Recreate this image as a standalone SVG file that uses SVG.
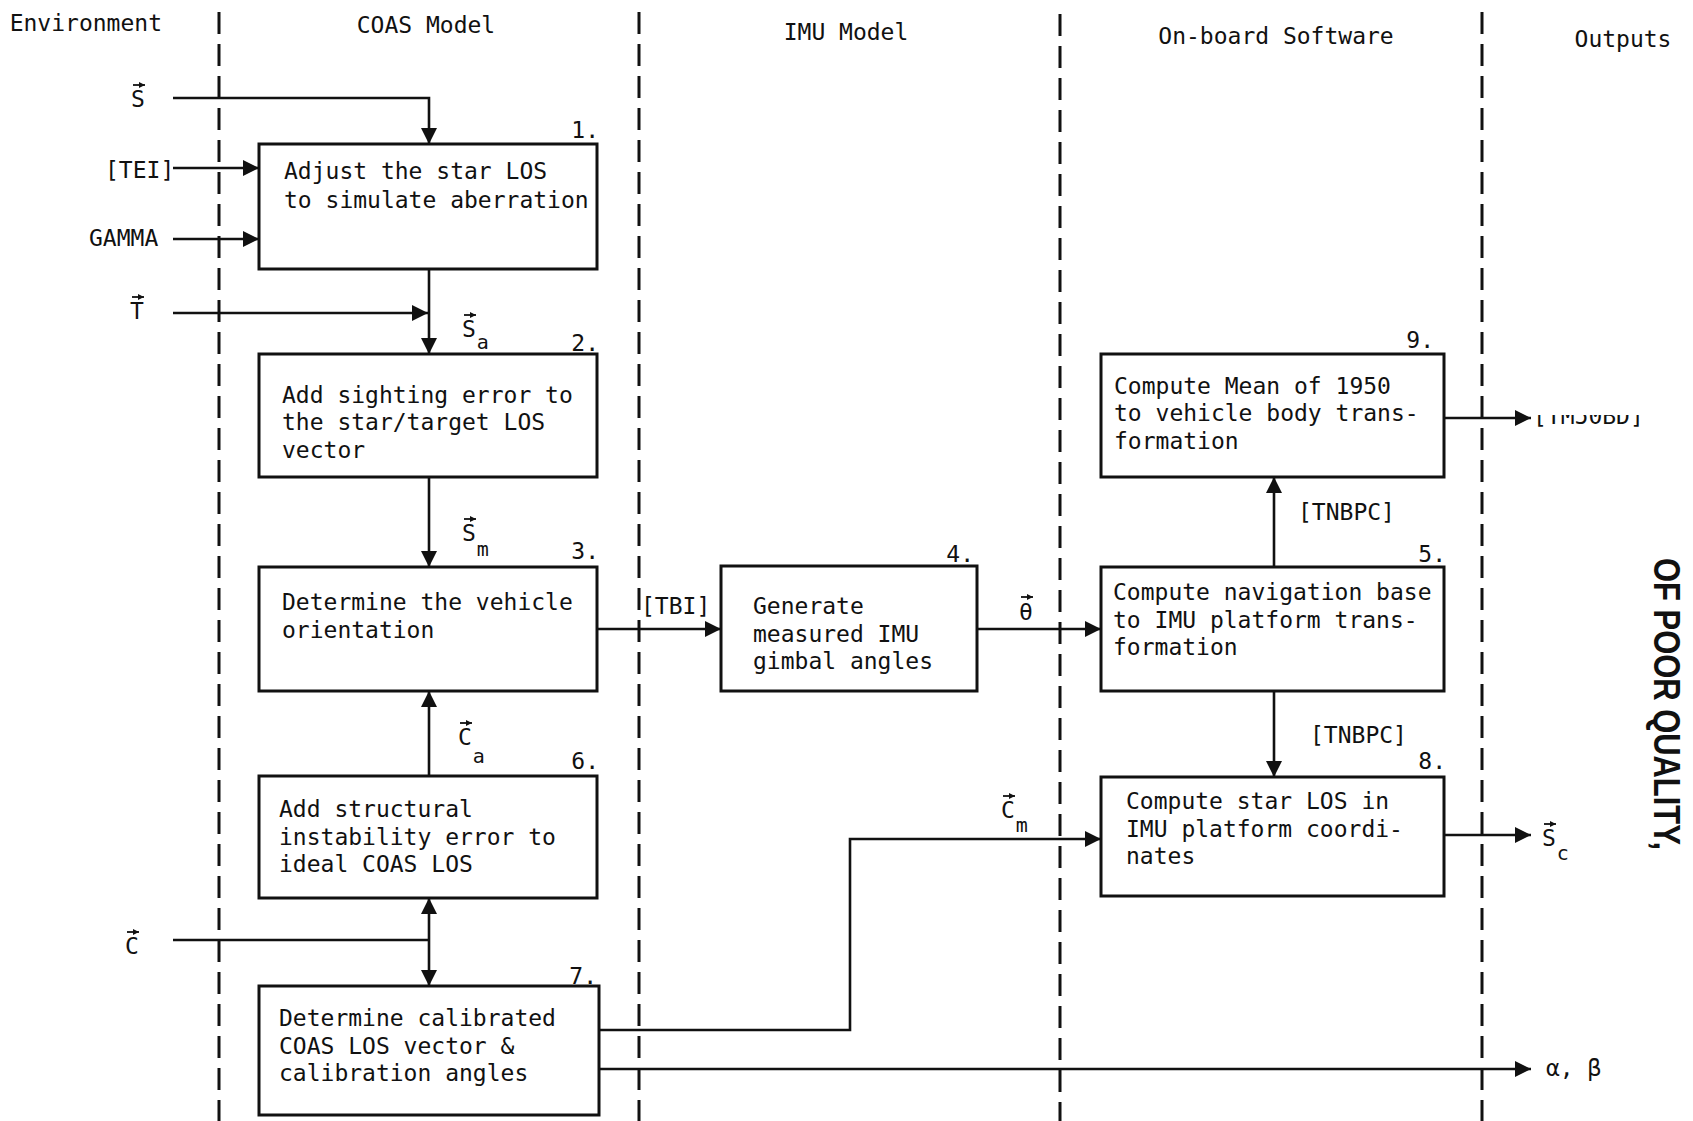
<svg xmlns="http://www.w3.org/2000/svg" width="1693" height="1121" viewBox="0 0 1693 1121">
<style>
text{font-family:"DejaVu Sans Mono","Liberation Mono",monospace;font-size:23px;fill:#111}
.box{fill:#fff;stroke:#111;stroke-width:3}
.lane{stroke:#111;stroke-width:3;stroke-dasharray:22 10;fill:none}
.c{fill:none;stroke:#111;stroke-width:2.6}
.acc{fill:none;stroke:#111;stroke-width:1.8}
.num{text-anchor:end}
.sub{font-size:20px}
.stamp{font-family:"Liberation Sans",Arial,sans-serif;font-weight:bold;font-size:37px}
</style>
<defs>
<marker id="ah" markerUnits="userSpaceOnUse" markerWidth="18" markerHeight="18" refX="16" refY="8" orient="auto">
<path d="M0,0 L16,8 L0,16 z" fill="#111"/>
</marker>
<marker id="sm" markerUnits="userSpaceOnUse" markerWidth="8" markerHeight="8" refX="6" refY="3" orient="auto">
<path d="M0,0 L6,3 L0,6 z" fill="#111"/>
</marker>
<clipPath id="halfclip"><rect x="1525" y="415" width="140" height="15"/></clipPath>
</defs>
<rect width="1693" height="1121" fill="#fff"/>

<g id="lanes">
<line class="lane" x1="219" y1="12" x2="219" y2="1121"/>
<line class="lane" x1="639" y1="12" x2="639" y2="1121"/>
<line class="lane" x1="1060" y1="14" x2="1060" y2="1121"/>
<line class="lane" x1="1482" y1="12" x2="1482" y2="1121"/>
</g>

<g id="headers">
<text x="162" y="31" text-anchor="end">Environment</text>
<text x="426" y="33" text-anchor="middle">COAS Model</text>
<text x="846" y="40" text-anchor="middle">IMU Model</text>
<text x="1276" y="44" text-anchor="middle">On-board Software</text>
<text x="1623" y="47" text-anchor="middle">Outputs</text>
</g>

<g id="connectors">
<path class="c" d="M173,98 H429 V144" marker-end="url(#ah)"/>
<path class="c" d="M173,168 H259" marker-end="url(#ah)"/>
<path class="c" d="M173,239 H259" marker-end="url(#ah)"/>
<path class="c" d="M173,313 H428" marker-end="url(#ah)"/>
<path class="c" d="M429,269 V354" marker-end="url(#ah)"/>
<path class="c" d="M429,477 V567" marker-end="url(#ah)"/>
<path class="c" d="M597,629 H721" marker-end="url(#ah)"/>
<path class="c" d="M977,629 H1101" marker-end="url(#ah)"/>
<path class="c" d="M1274,567 V477" marker-end="url(#ah)"/>
<path class="c" d="M1274,691 V777" marker-end="url(#ah)"/>
<path class="c" d="M1444,418 H1531" marker-end="url(#ah)"/>
<path class="c" d="M1444,835 H1531" marker-end="url(#ah)"/>
<path class="c" d="M429,776 V691" marker-end="url(#ah)"/>
<path class="c" d="M173,940 H429"/>
<path class="c" d="M429,940 V898" marker-end="url(#ah)"/>
<path class="c" d="M429,940 V986" marker-end="url(#ah)"/>
<path class="c" d="M599,1030 H850 V839 H1101" marker-end="url(#ah)"/>
<path class="c" d="M599,1069 H1531" marker-end="url(#ah)"/>
</g>

<g id="labels">
<text x="131" y="107">S</text>
<path class="acc" d="M133,85 h12" marker-end="url(#sm)"/>
<text x="105" y="178">[TEI]</text>
<text x="89" y="246">GAMMA</text>
<text x="130" y="319">T</text>
<path class="acc" d="M132,297 h12" marker-end="url(#sm)"/>
<text x="462" y="337">S<tspan class="sub" dx="1" dy="12">a</tspan></text>
<path class="acc" d="M464,315 h12" marker-end="url(#sm)"/>
<text x="462" y="541">S<tspan class="sub" dx="1" dy="15">m</tspan></text>
<path class="acc" d="M464,519 h12" marker-end="url(#sm)"/>
<text x="641" y="614">[TBI]</text>
<text x="1019" y="620">&#x3B8;</text>
<path class="acc" d="M1021,597 h12" marker-end="url(#sm)"/>
<text x="1298" y="520">[TNBPC]</text>
<text x="1310" y="743">[TNBPC]</text>
<text x="1533" y="424" clip-path="url(#halfclip)">[TM50BD]</text>
<text x="1542" y="846">S<tspan class="sub" dx="1" dy="14">c</tspan></text>
<path class="acc" d="M1544,824 h12" marker-end="url(#sm)"/>
<text x="125" y="954">C</text>
<path class="acc" d="M127,932 h12" marker-end="url(#sm)"/>
<text x="458" y="745">C<tspan class="sub" dx="1" dy="18">a</tspan></text>
<path class="acc" d="M460,723 h12" marker-end="url(#sm)"/>
<text x="1001" y="818">C<tspan class="sub" dx="1" dy="14">m</tspan></text>
<path class="acc" d="M1003,796 h12" marker-end="url(#sm)"/>
<text x="1546" y="1076">&#x3B1;, &#x3B2;</text>
</g>

<g id="node1">
<rect class="box" x="259" y="144" width="338" height="125"/>
<text class="num" x="599" y="138">1.</text>
<text x="284" y="179">Adjust the star LOS</text>
<text x="284" y="208">to simulate aberration</text>
</g>
<g id="node2">
<rect class="box" x="259" y="354" width="338" height="123"/>
<text class="num" x="599" y="351">2.</text>
<text x="282" y="403">Add sighting error to</text>
<text x="282" y="430">the star/target LOS</text>
<text x="282" y="458">vector</text>
</g>
<g id="node3">
<rect class="box" x="259" y="567" width="338" height="124"/>
<text class="num" x="599" y="559">3.</text>
<text x="282" y="610">Determine the vehicle</text>
<text x="282" y="638">orientation</text>
</g>
<g id="node4">
<rect class="box" x="721" y="566" width="256" height="125"/>
<text class="num" x="974" y="562">4.</text>
<text x="753" y="614">Generate</text>
<text x="753" y="642">measured IMU</text>
<text x="753" y="669">gimbal angles</text>
</g>
<g id="node5">
<rect class="box" x="1101" y="567" width="343" height="124"/>
<text class="num" x="1446" y="562">5.</text>
<text x="1113" y="600">Compute navigation base</text>
<text x="1113" y="628">to IMU platform trans-</text>
<text x="1113" y="655">formation</text>
</g>
<g id="node6">
<rect class="box" x="259" y="776" width="338" height="122"/>
<text class="num" x="599" y="769">6.</text>
<text x="279" y="817">Add structural</text>
<text x="279" y="845">instability error to</text>
<text x="279" y="872">ideal COAS LOS</text>
</g>
<g id="node7">
<rect class="box" x="259" y="986" width="340" height="129"/>
<text class="num" x="597" y="984">7.</text>
<text x="279" y="1026">Determine calibrated</text>
<text x="279" y="1054">COAS LOS vector &amp;</text>
<text x="279" y="1081">calibration angles</text>
</g>
<g id="node8">
<rect class="box" x="1101" y="777" width="343" height="119"/>
<text class="num" x="1446" y="769">8.</text>
<text x="1126" y="809">Compute star LOS in</text>
<text x="1126" y="837">IMU platform coordi-</text>
<text x="1126" y="864">nates</text>
</g>
<g id="node9">
<rect class="box" x="1101" y="354" width="343" height="123"/>
<text class="num" x="1434" y="348">9.</text>
<text x="1114" y="394">Compute Mean of 1950</text>
<text x="1114" y="421">to vehicle body trans-</text>
<text x="1114" y="449">formation</text>
</g>

<g id="stamp">
<text class="stamp" transform="translate(1654,558) rotate(90)" textLength="292" lengthAdjust="spacingAndGlyphs">OF POOR QUALITY,</text>
</g>
</svg>
